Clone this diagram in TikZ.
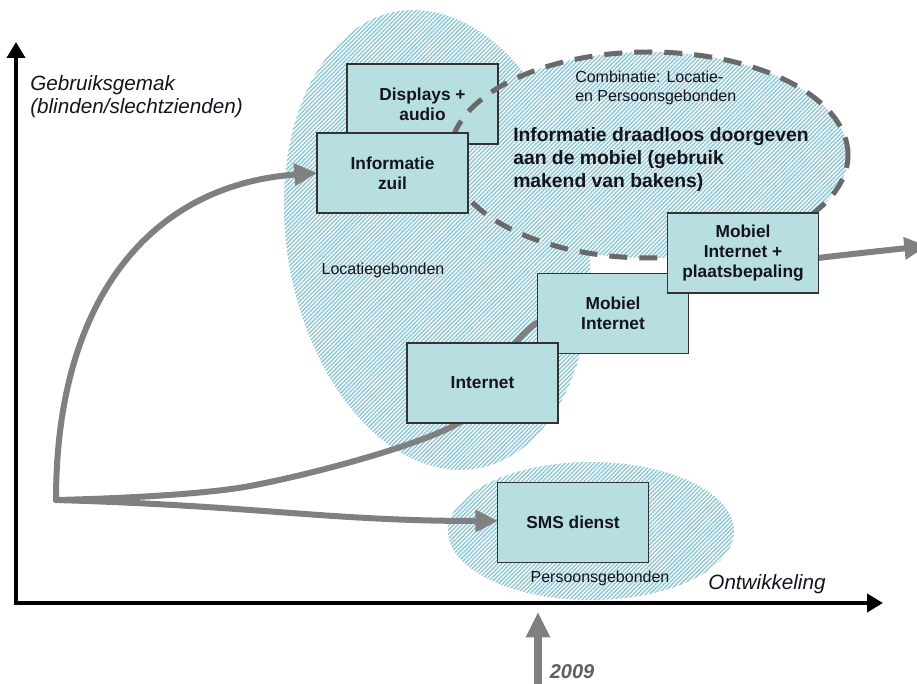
\documentclass[tikz,border=0pt]{standalone}
\usepackage{fontspec}
\setmainfont{Liberation Sans}
\usetikzlibrary{arrows.meta,patterns.meta}

\definecolor{boxfill}{RGB}{183,223,226}
\definecolor{hatchcol}{RGB}{145,200,212}
\definecolor{trendgray}{RGB}{128,128,128}
\definecolor{dashgray}{RGB}{105,105,105}
\definecolor{inktext}{RGB}{20,20,30}
\definecolor{yeargray}{RGB}{95,95,95}

\begin{document}
\begin{tikzpicture}[x=0.75pt,y=-0.75pt,
  box/.style={draw=black!80, line width=1.1pt, fill=boxfill,
    minimum width=113pt, minimum height=60pt, inner sep=0pt, align=center,
    font={\fontsize{13}{15}\selectfont\bfseries}, text=inktext},
  lbl/.style={inner sep=0pt, font={\fontsize{12}{14.25}\selectfont}, text=inktext},
  axislbl/.style={inner sep=0pt, font={\fontsize{15.5}{17.25}\selectfont\itshape}, text=inktext},
  trend/.style={draw=trendgray, line width=4.5pt, line cap=round,
    -{Triangle[length=17pt,width=16pt]}},
  axisline/.style={draw=black, line width=3pt, line join=miter,
    {Triangle[length=12pt,width=13.5pt]}-{Triangle[length=12pt,width=13.5pt]}},
  hatchfill/.style={pattern={Lines[angle=45,distance=2.2pt,line width=1.1pt]},
    pattern color=hatchcol},
  dashline/.style={draw=dashgray, line width=3.75pt, dash pattern=on 13.5pt off 9pt}
]
\useasboundingbox (0,0) rectangle (917,684);

% hatched areas: location based, person based and the combined zone
% (all three outlines run the same way round, so overlaps stay filled)
\fill[hatchfill]
  plot[domain=360:0, samples=120]
    ({437 + 150*cos(\x)*0.985 + 232*sin(\x)*0.174},
     {240 - 150*cos(\x)*0.174 + 232*sin(\x)*0.985}) -- cycle
  (591,531) ellipse [x radius=107.25pt, y radius=51.75pt]
  (649,155) ellipse [x radius=149.25pt, y radius=77.25pt];

% area labels
\node[lbl] (locgeb) at (383,270) {Locatiegebonden};
\node[lbl] (persgeb) at (600,578) {Persoonsgebonden};
\node[lbl, anchor=west, align=left] (combi) at (575,88)
  {Combinatie: Locatie-\\en Persoonsgebonden};

% common start of the development paths
\coordinate (o) at (56,500);
\coordinate (trendend) at (927,246);

% boxes that are drawn before the curves reach them
\node[box] (displays) at (422.5,104) {Displays +\\audio};

% development curves
\draw[trend] plot[smooth, tension=0.55] coordinates
  {(o) (250,486) (455,425) (515,343) (560,312) (680,276) (818,258) (trendend)};
\draw[trend] (o) .. controls (260,506) and (330,521) .. (498,521);
\draw[trend] (o) .. controls (56,300) and (150,185) .. (317,173);

% dashed outline of the combined zone
\draw[dashline] (649,155) ellipse [x radius=149.25pt, y radius=77.25pt];

% remaining boxes
\node[box] (zuil) at (392.5,173) {Informatie\\zuil};
\node[box] (mobint) at (613,313.5) {Mobiel\\Internet};
\node[box] (internet) at (482.5,383) {Internet};
\node[box] (plaats) at (743,253) {Mobiel\\Internet +\\plaatsbepaling};
\node[box] (sms) at (573,522.5) {SMS dienst};

\node[anchor=west, align=left, inner sep=0pt, text=inktext,
  font={\fontsize{14.5}{17.25}\selectfont\bfseries}] (draadloos) at (513,160)
  {Informatie draadloos doorgeven\\aan de mobiel (gebruik\\makend van bakens)};

% axes
\coordinate (yend) at (16,42);
\coordinate (corner) at (16,603);
\coordinate (xend) at (883,603);
\draw[axisline] (yend) -- (corner) -- (xend);

\node[axislbl, anchor=west, align=left] (ylab) at (30,97)
  {Gebruiksgemak\\(blinden/slechtzienden)};
\node[axislbl] (xlab) at (767,584) {Ontwikkeling};

% year marker
\coordinate (yearfoot) at (538,690);
\coordinate (yeartip) at (538,612);
\draw[draw=trendgray, line width=6pt, -{Triangle[length=19pt,width=17pt]}]
  (yearfoot) -- (yeartip);
\node[inner sep=0pt, text=yeargray, font={\fontsize{15}{18}\selectfont\bfseries\itshape}]
  (year) at (572,672) {2009};
\end{tikzpicture}
\end{document}
